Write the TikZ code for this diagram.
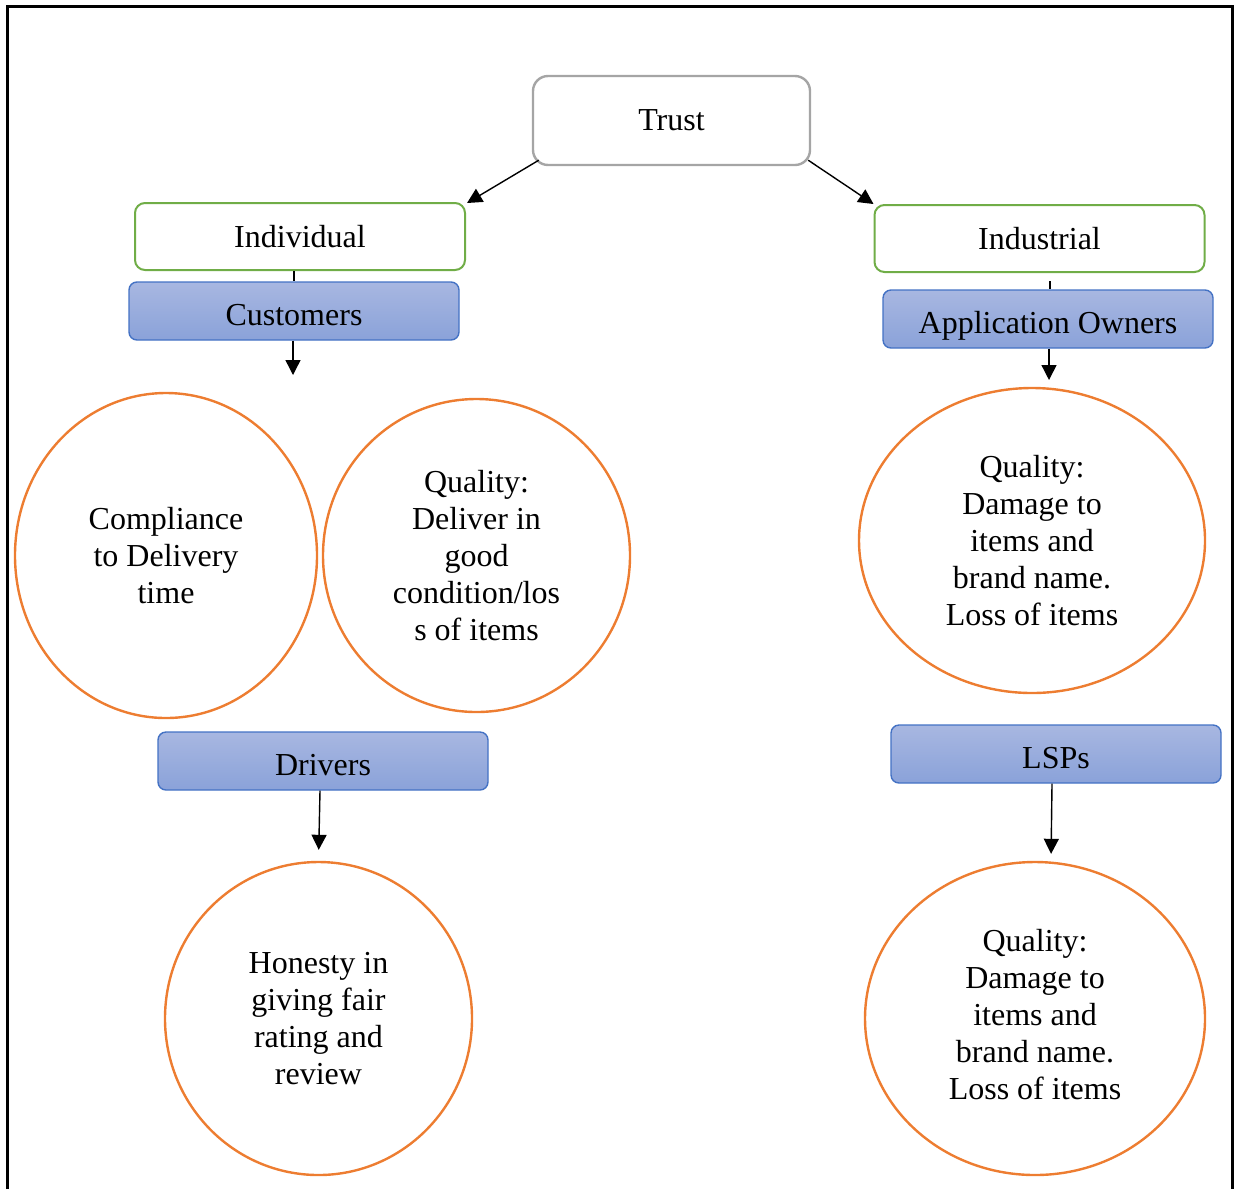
\documentclass[tikz,border=0pt]{standalone}
\usepackage{fontspec}
\setmainfont{Liberation Serif}
\usetikzlibrary{shapes.geometric,arrows.meta,calc}

\definecolor{trustgray}{HTML}{A5A5A5}
\definecolor{grpgreen}{HTML}{70AD47}
\definecolor{actorline}{HTML}{4472C4}
\definecolor{actortop}{HTML}{A8B7E1}
\definecolor{actorbot}{HTML}{8AA2D9}
\definecolor{aspectorange}{HTML}{ED7D31}

\begin{document}
\begin{tikzpicture}[x=0.5pt,y=-0.5pt,
  every node/.style={font=\fontsize{16}{18.5}\selectfont, align=center, inner sep=0pt},
  rootbox/.style={draw=trustgray, line width=1.2pt, rounded corners=7.5pt,
    minimum width=138.5pt, minimum height=44.5pt, fill=white},
  groupbox/.style={draw=grpgreen, line width=1pt, rounded corners=5pt,
    minimum width=165pt, minimum height=33.5pt, fill=white},
  actorbox/.style={draw=actorline, line width=0.7pt, rounded corners=4pt,
    top color=actortop, bottom color=actorbot,
    minimum width=165pt, minimum height=29pt,
    text height=14.5pt, text depth=0pt},
  aspect/.style={ellipse, draw=aspectorange, line width=1.2pt},
  arr/.style={line width=0.7pt, -{Triangle[width=7.5pt,length=7.5pt]}},
  link/.style={line width=0.6pt}
]
% page extent
\useasboundingbox (0,0) rectangle (1234,1189);

% open frame around the chart (no bottom edge)
\draw[line width=1.5pt] (7.5,1189) -- (7.5,6.5) -- (1232,6.5) -- (1232,1189);

% root and groups
\node[rootbox]  (trust) at (671.5,120.5) {Trust};
\node[groupbox] (indiv) at (300,236.5)   {Individual};
\node[groupbox] (indus) at (1039.5,238.5) {Industrial};

% actors
\node[actorbox] (cust) at (294,311)   {Customers};
\node[actorbox] (appo) at (1048,319)  {Application Owners};
\node[actorbox] (drv)  at (323,761)   {Drivers};
\node[actorbox] (lsp)  at (1056,754)  {LSPs};

% trust aspects
\node[aspect, minimum width=151pt, minimum height=162.5pt] (comp) at (166,555.5)
  {Compliance\\to Delivery\\time};
\node[aspect, minimum width=153.5pt, minimum height=156.5pt] (qdel) at (476.5,555.5)
  {Quality:\\Deliver in\\good\\condition/los\\s of items};
\node[aspect, minimum width=173pt, minimum height=152.5pt] (qapp) at (1032,540.5)
  {Quality:\\Damage to\\items and\\brand name.\\Loss of items};
\node[aspect, minimum width=153.5pt, minimum height=156.5pt] (hon) at (318.5,1018.5)
  {Honesty in\\giving fair\\rating and\\review};
\node[aspect, minimum width=170pt, minimum height=156.5pt] (qlsp) at (1035,1018.5)
  {\raisebox{3.5pt}{\begin{tabular}{@{}c@{}}Quality:\\Damage to\\items and\\brand name.\\Loss of items\end{tabular}}};

% free ends of the short actor arrows
\coordinate (custEnd) at (294,375);
\coordinate (appoEnd) at (1049,380);

% connectors
\draw[arr] ($(trust.south west)+(7,-6)$) -- ($(indiv.north east)+(1,1)$);
\draw[arr] ($(trust.south east)+(-3,-6)$) -- (indus.north west);

\draw[link] (cust.north |- indiv.south) -- (cust.north);
\draw[link, shorten <=4pt] ($(appo.north |- indus.south)+(2,0)$) -- ($(appo.north)+(2,0)$);

\draw[arr] ($(cust.south)+(-1,0)$) -- ($(custEnd)+(-1,0)$);
\draw[arr] ($(appo.south)+(1,0)$) -- (appoEnd);
\draw[arr, shorten >=5.5pt] ($(drv.south)+(-3,0)$) -- (hon.north);
\draw[arr, shorten >=3.5pt] ($(lsp.south)+(-4,0)$) -- ($(lsp.south |- qlsp.north)+(-5,0)$);
\end{tikzpicture}
\end{document}
